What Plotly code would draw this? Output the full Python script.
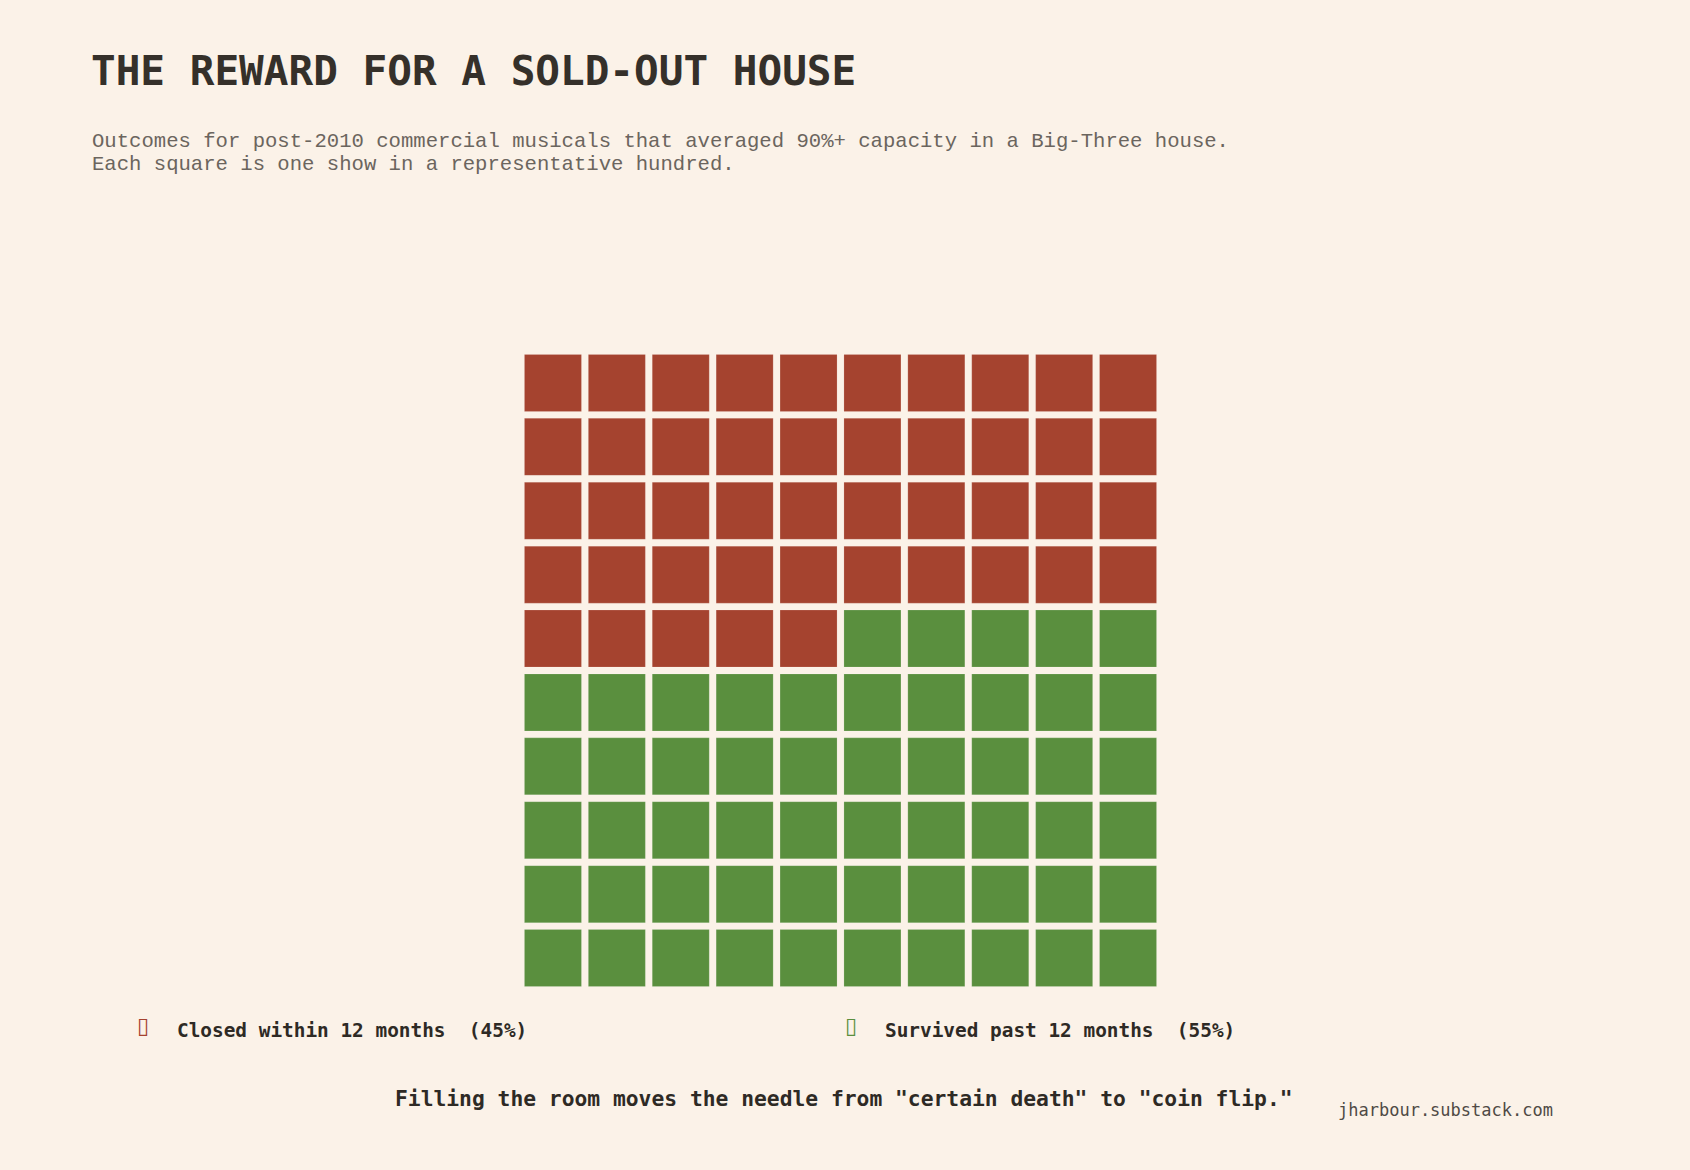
import plotly.graph_objects as go

# ---- data ----
categories = ["Closed within 12 months", "Survived past 12 months"]
counts = [45, 55]
shares = ["45%", "55%"]
colors = ["#A5432F", "#5A8F3E"]
n_cols = 10
n_rows = 10

title_text = "THE REWARD FOR A SOLD-OUT HOUSE"
subtitle_lines = [
    "Outcomes for post-2010 commercial musicals that averaged 90%+ capacity in a Big-Three house.",
    "Each square is one show in a representative hundred.",
]
caption_text = 'Filling the room moves the needle from "certain death" to "coin flip."'
credit_text = "jharbour.substack.com"

# ---- build waffle positions ----
xs = {c: [] for c in categories}
ys = {c: [] for c in categories}
idx = 0
for cat, n in zip(categories, counts):
    for _ in range(n):
        xs[cat].append(idx % n_cols)
        ys[cat].append(idx // n_cols)
        idx += 1

W, H = 1690, 1170
BG = "#FBF2E8"
plot_l, plot_t, plot_w, plot_h = 520.5, 350.5, 640, 640

fig = go.Figure()
for cat, col in zip(categories, colors):
    fig.add_trace(go.Scatter(
        x=xs[cat], y=ys[cat], mode="markers", name=cat,
        marker=dict(symbol="square", size=57, color=col,
                    line=dict(width=1, color="rgba(255,255,255,0.15)")),
        hoverinfo="skip", showlegend=False,
    ))

def px_x(x):
    return (x - plot_l) / plot_w

def px_y(y):
    return (plot_t + plot_h - y) / plot_h

MONO = "DejaVu Sans Mono"
ann = []
def add(text, x, y, xanchor, size, color, family=MONO):
    ann.append(dict(text=text, x=px_x(x), y=px_y(y), xref="paper", yref="paper",
                    xanchor=xanchor, yanchor="middle", showarrow=False,
                    font=dict(family=family, size=size, color=color)))

add("<b>" + title_text + "</b>", 88, 70, "left", 41, "#35302A")
for i, line in enumerate(subtitle_lines):
    add(line, 89, 141 + 22.6 * i, "left", 20.6, "#6B655E", "Liberation Mono")

legend_x = [137, 846]
for cat, col, sh, lx in zip(categories, colors, shares, legend_x):
    add("▯", lx - 3, 1026, "left", 22, col, "DejaVu Sans")
    add("<b>" + cat + "  (" + sh + ")</b>", lx + 37, 1031, "left", 19.4, "#2E2A25")

add("<b>" + caption_text + "</b>", 844, 1099, "center", 21.3, "#2E2A25")
add(credit_text, 1556, 1111, "right", 17, "#4F4A45")

fig.update_layout(
    width=W, height=H,
    paper_bgcolor=BG, plot_bgcolor=BG,
    margin=dict(l=plot_l, r=W - plot_l - plot_w, t=plot_t, b=H - plot_t - plot_h, pad=0),
    xaxis=dict(range=[-0.5, n_cols - 0.5], visible=False, fixedrange=True),
    yaxis=dict(range=[n_rows - 0.5, -0.5], visible=False, fixedrange=True),
    annotations=ann,
    showlegend=False,
)

fig.write_html("out.html", config={"displayModeBar": False},
               post_script="document.body.style.margin='0';document.body.style.overflow='hidden';")
